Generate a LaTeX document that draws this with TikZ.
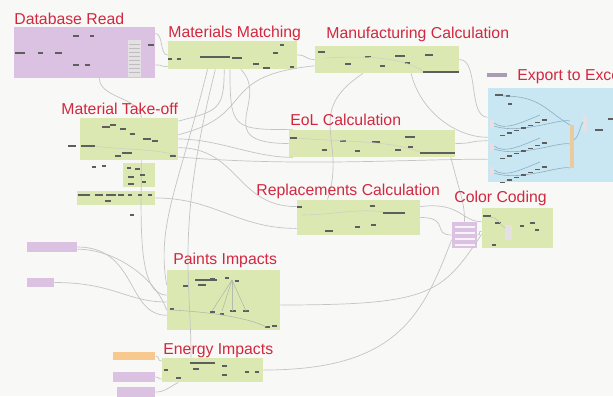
\documentclass[tikz,border=0pt]{standalone}
\usepackage{fontspec}
\setmainfont{Liberation Sans}
\usetikzlibrary{fit}
\definecolor{pagebg}{HTML}{F8F8F7}
\definecolor{grpgreen}{HTML}{DCE8B2}
\definecolor{grppurple}{HTML}{DCC2E2}
\definecolor{grpblue}{HTML}{C9E6F3}
\definecolor{grporange}{HTML}{F7C98E}
\definecolor{titlered}{HTML}{D2283F}
\definecolor{wiregray}{HTML}{C4C4C4}
\definecolor{nodegray}{HTML}{5E5E5E}
\definecolor{listgray}{HTML}{E4E0E4}
\definecolor{wireblue}{HTML}{8DAEC2}
\definecolor{barpurple}{HTML}{A99CB3}
\definecolor{barorange}{HTML}{EBCB9C}
\tikzset{
  grp/.style={fill=#1, inner sep=0pt, draw=none},
  grouptitle/.style={font=\fontsize{7.9}{9}\selectfont, text=titlered,
    anchor=base west, inner sep=0pt},
  wire/.style={draw=wiregray, line width=0.35pt},
  innerwire/.style={draw=#1, line width=0.3pt},
  blip/.style={fill=nodegray},
}

\begin{document}
\begin{tikzpicture}[x=0.5pt,y=-0.5pt]
  \useasboundingbox (0,0) rectangle (613,396);
  \clip (0,0) rectangle (613,396);
  \fill[pagebg] (0,0) rectangle (613,396);

  % Groups
  \node[grp=grppurple, fit={(14,27) (155,78)}] (dbread) {};
  \node[grp=grpgreen, fit={(168,41) (297,69)}] (matching) {};
  \node[grp=grpgreen, fit={(315,46) (459,73)}] (manuf) {};
  \node[grp=grpblue, fit={(488,88) (620,182)}] (export) {};
  \node[grp=barpurple, fit={(487,73) (507,77)}] (exportin) {};
  \node[grp=grpgreen, fit={(80,118) (178,160)}] (takeoff) {};
  \node[grp=grpgreen, fit={(123,163) (155,187)}] (takeoffb) {};
  \node[grp=grpgreen, fit={(77,191) (155,205)}] (takeoffc) {};
  \node[grp=grpgreen, fit={(289,130) (455,157)}] (eol) {};
  \node[grp=grpgreen, fit={(297,200) (420,235)}] (repl) {};
  \node[grp=grpgreen, fit={(482,208) (553,248)}] (colorg) {};
  \node[grp=grppurple, fit={(452,222) (477,248)}] (colorp) {};
  \node[grp=grpgreen, fit={(167,270) (280,330)}] (paints) {};
  \node[grp=grpgreen, fit={(162,358) (263,382)}] (energy) {};
  \node[grp=grppurple, fit={(27,242) (77,252)}] (inA) {};
  \node[grp=grppurple, fit={(27,278) (54,287)}] (inB) {};
  \node[grp=grporange, fit={(113,352) (155,360)}] (inC) {};
  \node[grp=grppurple, fit={(113,372) (155,382)}] (inD) {};
  \node[grp=grppurple, fit={(117,387) (155,397)}] (inE) {};

  % Wires between groups
  \draw[wire] (dbread.15) .. controls +(8,0) and +(-8,0) .. (matching.west);
  \draw[wire] (dbread.-10) .. controls +(10,0) and +(-10,0) .. (matching.-170);
  \draw[wire] (dbread.-60) .. controls +(0,20) and +(0,-20) .. (takeoff.60);
  \draw[wire] (matching.east) .. controls +(10,0) and +(-10,0) .. (manuf.west);
  \draw[wire] (matching.-120) .. controls +(0,40) and +(40,-10) .. (takeoff.20);
  \draw[wire] (matching.-100) .. controls +(0,60) and +(-60,0) .. (eol.170);
  \draw[wire] (matching.-60) .. controls +(30,30) and +(-80,0) .. (eol.west);
  \draw[wire] (matching.-150) .. controls +(-30,120) and +(-10,-60) .. (paints.165);
  \draw[wire] (matching.-140) .. controls +(-40,160) and +(0,-80) .. (energy.150);
  \draw[wire] (manuf.east) .. controls +(20,0) and +(-20,0) .. (export.165);
  \draw[wire] (manuf.-150) .. controls +(-60,40) and +(20,-60) .. (repl.150);
  \draw[wire] (manuf.-30) .. controls +(10,40) and +(-30,0) .. (export.-178);
  \draw[wire] (takeoff.east) .. controls +(40,0) and +(-40,0) .. (eol.-170);
  \draw[wire] (takeoff.-10) .. controls +(60,0) and +(-60,0) .. (repl.170);
  \draw[wire] (takeoff.-20) .. controls +(120,10) and +(-80,0) .. (export.-160);
  \draw[wire] (takeoff.5) .. controls +(80,-20) and +(-100,10) .. (manuf.-175);
  \draw[wire] (takeoff.-60) .. controls +(0,60) and +(-30,0) .. (paints.175);
  \draw[wire] (takeoffc.east) .. controls +(60,0) and +(-60,0) .. (repl.-170);
  \draw[wire] (eol.east) .. controls +(20,0) and +(-20,0) .. (export.-175);
  \draw[wire] (eol.-10) .. controls +(10,40) and +(0,-20) .. (colorp.north);
  \draw[wire] (repl.east) .. controls +(30,0) and +(-20,0) .. (colorp.west);
  \draw[wire] (repl.10) .. controls +(40,-5) and +(-20,0) .. (colorg.170);
  \draw[wire] (inA.east) .. controls +(60,0) and +(-40,0) .. (paints.-165);
  \draw[wire] (inA.-5) .. controls +(40,0) and +(-10,-30) .. (paints.-170);
  \draw[wire] (inB.east) .. controls +(60,0) and +(-40,0) .. (paints.-178);
  \draw[wire] (paints.-5) .. controls +(150,0) and +(-40,60) .. (colorg.-170);
  \draw[wire] (energy.east) .. controls +(130,0) and +(-30,80) .. (colorp.-160);
  \draw[wire] (inC.east) .. controls +(5,0) and +(-5,0) .. (energy.170);
  \draw[wire] (inD.east) .. controls +(5,0) and +(-5,0) .. (energy.-170);
  \draw[wire] (inE.east) .. controls +(10,0) and +(-10,5) .. (energy.-160);
  \draw[wire] (colorp.east) .. controls +(5,0) and +(-5,0) .. (colorg.-175);

  % Database Read contents
  \fill[listgray] (128,40) rectangle (141,77);
  \foreach \y in {44,48,...,74} \draw[nodegray!40,line width=0.3pt] (129,\y) -- (140,\y);
  \foreach \x/\y/\w in {15/52/10,38/52/5,55/52/7,73/35/6,90/35/4,73/64/6,85/64/5,148/44/6}
    \fill[blip] (\x,\y) rectangle ++(\w,1.6);
  % Materials Matching contents
  \foreach \x/\y/\w in {168/58/4,177/58/4,200/56/30,232/57/10,253/63/6,263/67/7,273/52/5,280/44/4,290/66/4}
    \fill[blip] (\x,\y) rectangle ++(\w,1.6);
  % Manufacturing Calculation contents
  \foreach \x/\y/\w in {318/51/7,345/63/6,365/56/6,380/65/5,395/55/10,405/62/5,425/54/8,423/71/36}
    \fill[blip] (\x,\y) rectangle ++(\w,1.6);
  \draw[innerwire=grpgreen!60!black!40] (325,58) .. controls (360,56) and (400,56) .. (423,71);
  % EoL Calculation contents
  \foreach \x/\y/\w in {290/137/7,322/149/5,340/140/6,355/150/5,372/141/8,395/149/6,405/136/10,408/146/5,420/152/35}
    \fill[blip] (\x,\y) rectangle ++(\w,1.6);
  \draw[innerwire=grpgreen!60!black!40] (297,138) .. controls (340,142) and (390,140) .. (420,152);
  % Material Take-off contents
  \foreach \x/\y/\w in {68/145/8,81/145/14,102/126/8,110/124/6,120/128/6,130/133/5,143/138/8,152/140/6,115/155/6,122/152/10,170/155/6,92/166/4,102/165/4}
    \fill[blip] (\x,\y) rectangle ++(\w,1.6);
  \draw[innerwire=grpgreen!60!black!40] (95,146) .. controls (120,150) and (150,148) .. (176,155);
  \foreach \x/\y/\w in {127/167/4,135/168/5,128/176/6,140/174/5,128/183/6,142/181/4}
    \fill[blip] (\x,\y) rectangle ++(\w,1.6);
  \foreach \x/\y/\w in {78/194/12,95/194/8,106/194/10,118/194/6,128/194/4,138/194/4,148/194/4,105/200/6,130/214/4}
    \fill[blip] (\x,\y) rectangle ++(\w,1.6);
  % Replacements Calculation contents
  \foreach \x/\y/\w in {297/206/5,325/230/8,355/226/5,371/224/5,383/212/22,370/205/5}
    \fill[blip] (\x,\y) rectangle ++(\w,1.6);
  \draw[innerwire=grpgreen!60!black!40] (302,215) .. controls (330,215) and (360,208) .. (383,212);
  % Color Coding contents
  \foreach \y in {226,232,238,244} \fill[white!80!grppurple] (455,\y) rectangle (475,\y+2);
  \fill[listgray] (505,225) rectangle (512,240);
  \foreach \x/\y/\w in {483/215/8,495/222/6,520/225/4,530/222/5,535/229/4,492/244/4}
    \fill[blip] (\x,\y) rectangle ++(\w,1.5);
  \draw[innerwire=grpgreen!60!black!50] (490,217) .. controls (500,218) and (500,226) .. (505,228);
  % Paints Impacts contents
  \foreach \x/\y/\w in {195/279/22,198/284/8,183/285/5,210/278/5,225/277/4,235/280/4,170/308/4,210/311/5,220/313/4,230/310/6,243/310/6,265/326/5,272/325/5}
    \fill[blip] (\x,\y) rectangle ++(\w,1.6);
  \foreach \x in {212,222,232,246} \draw[innerwire=grpgreen!50!black!50] (232,280) -- (\x,311);
  \draw[innerwire=grpgreen!50!black!50] (172,310) .. controls (210,312) and (250,318) .. (266,327);
  % Energy Impacts contents
  \foreach \x/\y/\w in {190/362/25,193/368/6,164/369/4,176/377/5,222/365/5,222/374/5,245/371/4,255/371/4}
    \fill[blip] (\x,\y) rectangle ++(\w,1.6);
  % Export to Excel contents
  \foreach \y in {123,146,170} {
    \fill[listgray] (490,\y-3) rectangle (494,\y+5);
    \draw[innerwire=wireblue] (494,\y) .. controls (505,\y+8) and (520,\y) .. (540,\y-8);
    \draw[innerwire=wireblue] (494,\y+3) .. controls (520,\y+12) and (560,\y-5) .. (570,\y-2);
    \foreach \k in {0,...,6}
      \fill[blip] ({500+7*\k},{\y+12-2.6*\k}) rectangle ++(5,1.4);
  }
  \foreach \x/\y/\w in {495/94/8,506/95/4,508/103/4,595/129/8,608/118/5}
    \fill[blip] (\x,\y) rectangle ++(\w,1.5);
  \draw[innerwire=wireblue] (503,96) .. controls (540,96) and (545,110) .. (570,125);
  \fill[barorange] (570,125) rectangle (574,168);
  \fill[listgray] (583,116) rectangle (587,131);
  \draw[innerwire=wireblue] (574,140) .. controls (580,135) and (580,125) .. (583,122);

  % Group titles
  \node[grouptitle] (t-dbread) at (14,24) {Database Read};
  \node[grouptitle] (t-matching) at (168,37) {Materials Matching};
  \node[grouptitle] (t-manuf) at (326,38) {Manufacturing Calculation};
  \node[grouptitle] (t-export) at (517,80) {Export to Excel};
  \node[grouptitle] (t-takeoff) at (61,114) {Material Take-off};
  \node[grouptitle] (t-eol) at (290,125) {EoL Calculation};
  \node[grouptitle] (t-repl) at (256,195) {Replacements Calculation};
  \node[grouptitle] (t-color) at (454,202) {Color Coding};
  \node[grouptitle] (t-paints) at (173,264) {Paints Impacts};
  \node[grouptitle] (t-energy) at (163,354) {Energy Impacts};
\end{tikzpicture}
\end{document}
